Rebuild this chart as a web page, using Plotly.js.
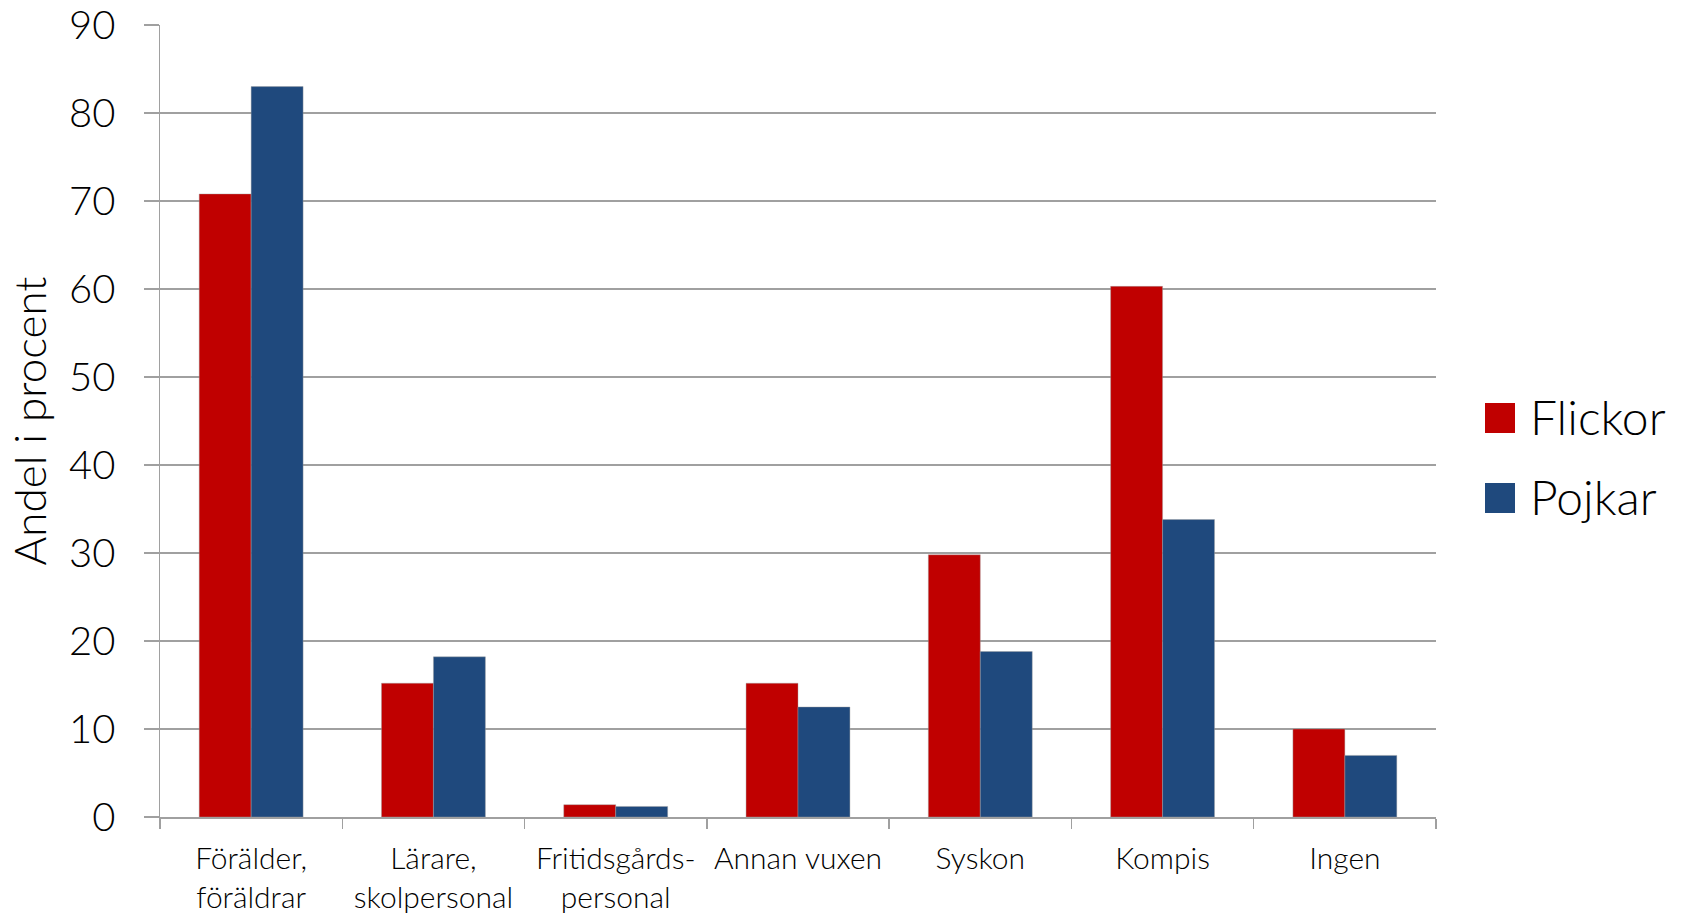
<!DOCTYPE html>
<html>
<head>
<meta charset="utf-8">
<script src="https://cdn.plot.ly/plotly-3.0.1.min.js"></script>
<style>
html,body{margin:0;padding:0;background:#fff;}
#chart{width:1688px;height:914px;}
</style>
</head>
<body>
<div id="chart"></div>
<script>
const categories = ["Förälder,<br>föräldrar", "Lärare,<br>skolpersonal", "Fritidsgårds-<br>personal", "Annan vuxen", "Syskon", "Kompis", "Ingen"];
const seriesNames = ["Flickor", "Pojkar"];
const flickor = [70.8, 15.2, 1.4, 15.2, 29.8, 60.3, 10.0];
const pojkar = [83.0, 18.2, 1.2, 12.5, 18.8, 33.8, 7.0];
const seriesColors = ["#C00000", "#1F497D"];
const yTicks = [0, 10, 20, 30, 40, 50, 60, 70, 80, 90];

const FONT = "Lato, 'Open Sans', sans-serif";
const gridColor = "#a0a0a0";

const traces = [flickor, pojkar].map((vals, i) => ({
  type: "bar",
  x: categories,
  y: vals,
  name: seriesNames[i],
  marker: {color: seriesColors[i], line: {width: 0.6, color: "rgba(160,160,160,0.7)"}},
  showlegend: false,
  hoverinfo: "x+y+name"
}));

// Legend drawn as shapes + annotations (large swatches like the original)
const legendShapes = [];
const legendAnn = [];
seriesNames.forEach((nm, i) => {
  const yc = 418 + i * 80; // pixel center
  legendShapes.push({
    type: "rect", xref: "paper", yref: "paper",
    x0: (1485 - 160) / 1276, x1: (1515 - 160) / 1276,
    y0: (817 - (yc + 15)) / 792, y1: (817 - (yc - 15)) / 792,
    fillcolor: seriesColors[i], line: {width: 0}
  });
  legendAnn.push({
    xref: "paper", yref: "paper", showarrow: false,
    x: (1528 - 160) / 1276, y: (817 - yc + 2) / 792,
    xanchor: "left", yanchor: "middle",
    text: nm, font: {family: FONT, size: 48, color: "#000", weight: 300}
  });
});

const layout = {
  width: 1688, height: 914,
  margin: {l: 160, r: 252, t: 25, b: 97},
  paper_bgcolor: "#fff", plot_bgcolor: "#fff",
  bargap: 0.43, bargroupgap: 0,
  barmode: "group",
  font: {family: FONT, color: "#000"},
  xaxis: {
    type: "category",
    showline: true, linecolor: gridColor, linewidth: 1.5,
    ticks: "outside", tickson: "boundaries", ticklen: 10, tickcolor: gridColor, tickwidth: 1.5,
    tickfont: {family: FONT, size: 30, color: "#000", weight: 300},
    ticklabelstandoff: 14,
    showgrid: false, zeroline: false, fixedrange: true
  },
  yaxis: {
    range: [0, 90], tickvals: yTicks, ticktext: yTicks.map(String),
    showline: true, linecolor: gridColor, linewidth: 1.5,
    ticks: "outside", ticklen: 15, tickcolor: gridColor, tickwidth: 1.5,
    showgrid: true, gridcolor: gridColor, gridwidth: 1.5,
    zeroline: false,
    tickfont: {family: FONT, size: 40, color: "#000", weight: 300},
    ticklabelstandoff: 20,
    title: {text: "Andel i procent", font: {family: FONT, size: 44, color: "#000", weight: 300}, standoff: 8},
    fixedrange: true
  },
  shapes: legendShapes,
  annotations: legendAnn,
  showlegend: false
};

Plotly.newPlot("chart", traces, layout, {displayModeBar: false, staticPlot: true});
</script>
</body>
</html>
